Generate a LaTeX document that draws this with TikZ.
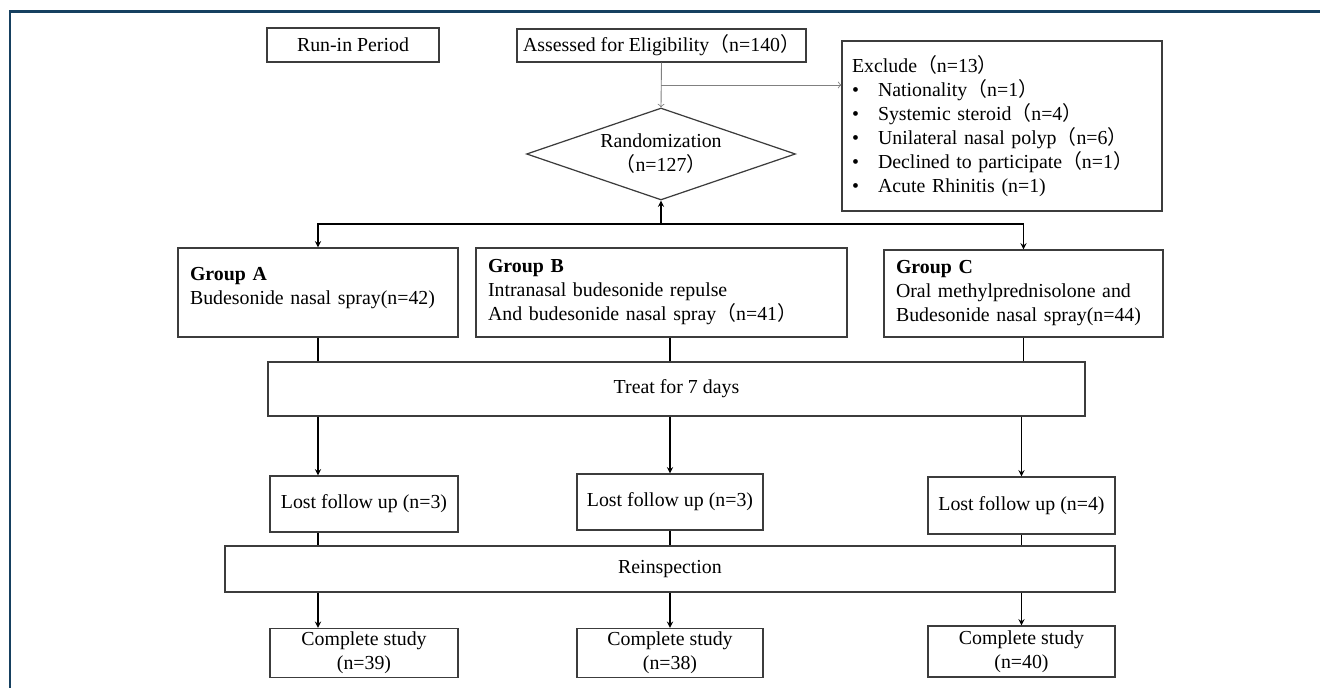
\documentclass[tikz,border=0pt]{standalone}
\usepackage{fontspec}
\setmainfont{Liberation Serif}
\newfontfamily\cjkfont{Noto Sans CJK SC}
\newcommand{\fwl}{{\cjkfont （}}
\newcommand{\fwr}{{\cjkfont ）}}
\usepackage{tikz}
\usetikzlibrary{positioning,calc,shapes.geometric}
\definecolor{FrameNavy}{RGB}{22, 64, 96}
\definecolor{BoxGray}{RGB}{60, 60, 60}

\begin{document}
\begin{tikzpicture}[x=0.02cm, y=-0.02cm,
  font=\fontsize{11.3}{13.7}\selectfont,
  box/.style={rectangle, draw=BoxGray, line width=0.7pt, align=center, inner sep=2pt},
  grpbox/.style={box, align=left, inner xsep=0.24cm, minimum height=1.78cm},
  decision/.style={diamond, draw=BoxGray, line width=0.7pt, align=center, aspect=2.92, minimum width=5.38cm, minimum height=1.84cm, inner sep=0pt},
  arrow/.style={->, >=stealth, line width=0.6pt},
  link/.style={line width=0.6pt},
  thinarrow/.style={->, >=to, gray, line width=0.5pt}
]
  \useasboundingbox (0,0) rectangle (1320,688);
  \draw[FrameNavy, line width=0.06cm] (10,688) -- (10,11.5) -- (1320,11.5);

  \node[box, minimum width=3.44cm, minimum height=0.68cm] (runin) at (353,45) {Run-in Period};
  \node[box, minimum width=5.78cm, minimum height=0.66cm] (elig) at (661.5,45.5) {Assessed for Eligibility\fwl n=140\fwr};
  \node[decision] (rand) at (661,154) {Randomization\\\fwl n=127\fwr};
  \node[box, align=left, text width=6cm, inner xsep=0.2cm, minimum height=3.4cm] (excl) at (1002,126) {Exclude\fwl n=13\fwr\\
    \makebox[0.52cm][l]{\textbullet}Nationality\fwl n=1\fwr\\
    \makebox[0.52cm][l]{\textbullet}Systemic steroid\fwl n=4\fwr\\
    \makebox[0.52cm][l]{\textbullet}Unilateral nasal polyp\fwl n=6\fwr\\
    \makebox[0.52cm][l]{\textbullet}Declined to participate\fwl n=1\fwr\\
    \makebox[0.52cm][l]{\textbullet}Acute Rhinitis (n=1)};

  \node[grpbox, text width=5.12cm, text depth=0.75cm] (grpA) at (318,292.5) {\textbf{Group A}\\Budesonide nasal spray(n=42)};
  \node[grpbox, text width=6.94cm] (grpB) at (661.5,292.5) {\textbf{Group B}\\Intranasal budesonide repulse\\And budesonide nasal spray\fwl n=41\fwr};
  \node[grpbox, text width=5.1cm, minimum height=1.74cm] (grpC) at (1023.5,293.5) {\textbf{Group C}\\Oral methylprednisolone and\\Budesonide nasal spray(n=44)};

  \node[box, minimum width=16.34cm, minimum height=1.08cm] (treat) at (676.5,389) {Treat for 7 days};

  \node[box, minimum width=3.76cm, minimum height=1.12cm] (lostA) at (364,504) {Lost follow up (n=3)};
  \node[box, minimum width=3.72cm, minimum height=1.12cm] (lostB) at (670,502) {Lost follow up (n=3)};
  \node[box, minimum width=3.74cm, minimum height=1.14cm] (lostC) at (1021.5,505.5) {Lost follow up (n=4)};

  \node[box, minimum width=17.8cm, minimum height=0.92cm] (reins) at (670,569) {Reinspection};

  \node[box, minimum width=3.76cm, minimum height=0.96cm] (doneA) at (364,653) {Complete study\\(n=39)};
  \node[box, minimum width=3.72cm, minimum height=0.96cm] (doneB) at (670,653) {Complete study\\(n=38)};
  \node[box, minimum width=3.74cm, minimum height=1.02cm] (doneC) at (1021.5,651.5) {Complete study\\(n=40)};

  \coordinate (side) at ($(elig.south)!0.5!(rand.north)$);
  \coordinate (split) at (661,224);

  \draw[thinarrow] (elig.south) -- (rand.north);
  \draw[thinarrow] (side) -- (side -| excl.west);

  \draw[arrow] (split) -- (rand.south);
  \draw[arrow] (split) -| (grpA.north);
  \draw[arrow] (split) -| (grpC.north);

  \draw[link] (grpA.south) -- (grpA.south |- treat.north);
  \draw[link] (grpB.south -| lostB) -- (treat.north -| lostB);
  \draw[link] (grpC.south) -- (grpC.south |- treat.north);

  \draw[arrow] (treat.south -| grpA) -- (lostA.north -| grpA);
  \draw[arrow] (treat.south -| lostB) -- (lostB.north);
  \draw[arrow] (treat.south -| lostC) -- (lostC.north);

  \draw[link] (lostA.south -| grpA) -- (reins.north -| grpA);
  \draw[link] (lostB.south) -- (reins.north -| lostB);
  \draw[link] (lostC.south) -- (reins.north -| lostC);

  \draw[arrow] (reins.south -| grpA) -- (doneA.north -| grpA);
  \draw[arrow] (reins.south -| doneB) -- (doneB.north);
  \draw[arrow] (reins.south -| doneC) -- (doneC.north);
\end{tikzpicture}
\end{document}
